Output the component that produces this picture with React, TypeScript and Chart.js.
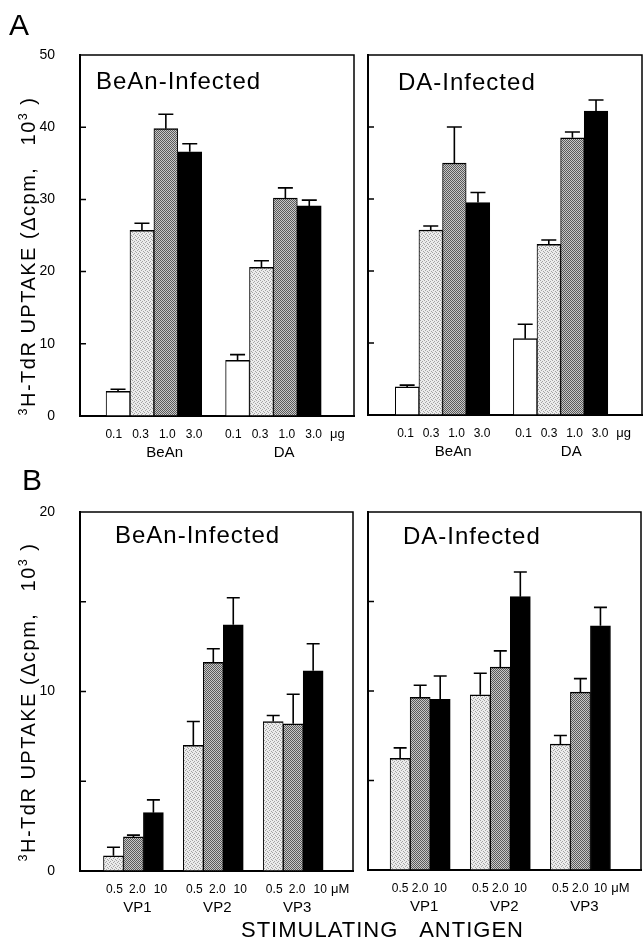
import React, { useEffect, useRef } from 'react';
import { Chart, registerables } from 'chart.js';

Chart.register(...registerables);

const FONT = '"Liberation Sans", Arial, Helvetica, sans-serif';

// ---------- Panel A: whole-virus antigen (3H-TdR uptake, Δcpm x 10^3) ----------
const antigensA = ['BeAn', 'DA'];
const dosesA = ['0.1', '0.3', '1.0', '3.0'];
const unitA = 'μg';
const yTicksA = [0, 10, 20, 30, 40, 50];
const yLabelsA = ['0', '10', '20', '30', '40', '50'];

// BeAn-infected: one array per dose, values for [BeAn, DA]
const aBeAnInf_01 = [3.4, 7.7];
const aBeAnInf_03 = [25.7, 20.6];
const aBeAnInf_10 = [39.8, 30.2];
const aBeAnInf_30 = [36.6, 29.1];
const aBeAnInfErr_01 = [0.3, 0.8];
const aBeAnInfErr_03 = [1.0, 0.9];
const aBeAnInfErr_10 = [2.0, 1.4];
const aBeAnInfErr_30 = [1.1, 0.8];

// DA-infected
const aDAInf_01 = [3.9, 10.6];
const aDAInf_03 = [25.7, 23.7];
const aDAInf_10 = [35.0, 38.5];
const aDAInf_30 = [29.5, 42.2];
const aDAInfErr_01 = [0.25, 2.0];
const aDAInfErr_03 = [0.55, 0.6];
const aDAInfErr_10 = [5.0, 0.8];
const aDAInfErr_30 = [1.4, 1.55];

// ---------- Panel B: capsid peptides ----------
const antigensB = ['VP1', 'VP2', 'VP3'];
const dosesB = ['0.5', '2.0', '10'];
const unitB = 'μM';
const yTicksB = [0, 5, 10, 15, 20];
const yLabelsB = ['0', '', '10', '', '20'];

// BeAn-infected: one array per dose, values for [VP1, VP2, VP3]
const bBeAnInf_05 = [0.85, 7.0, 8.33];
const bBeAnInf_20 = [1.9, 11.63, 8.2];
const bBeAnInf_10 = [3.25, 13.72, 11.15];
const bBeAnInfErr_05 = [0.47, 1.33, 0.33];
const bBeAnInfErr_20 = [0.1, 0.75, 1.65];
const bBeAnInfErr_10 = [0.71, 1.5, 1.51];

// DA-infected
const bDAInf_05 = [6.24, 9.79, 7.03];
const bDAInf_20 = [9.64, 11.33, 9.94];
const bDAInf_10 = [9.53, 15.27, 13.64];
const bDAInfErr_05 = [0.58, 1.2, 0.48];
const bDAInfErr_20 = [0.68, 0.91, 0.75];
const bDAInfErr_10 = [1.31, 1.38, 1.03];

type FillKind = 'white' | 'light' | 'dark' | 'black';

interface PanelCfg {
  key: string;
  title: string;
  antigens: string[];
  doses: string[];
  unit: string;
  values: number[][];
  errors: number[][];
  fills: FillKind[];
  yTicks: number[];
  yLabels: string[];
  showYLabels: boolean;
  yTitle: boolean;
  box: { left: number; top: number; width: number; height: number };
  pad: { top: number; right: number };
  yWidth: number;
  xHeight: number;
  xMin: number;
  xMax: number;
  titleAt: [number, number];
  yTitleAt: [number, number];
  cap: number;
  groupShift: number;
  labelSpread: number;
  labelShift: number;
}

function makeFill(kind: FillKind): string | CanvasPattern {
  if (kind === 'white') return '#ffffff';
  if (kind === 'black') return '#000000';
  const c = document.createElement('canvas');
  c.width = 4;
  c.height = 4;
  const g = c.getContext('2d')!;
  if (kind === 'light') {
    g.fillStyle = '#ececec';
    g.fillRect(0, 0, 4, 4);
    g.fillStyle = '#a4a4a4';
    [[0, 0], [2, 1], [1, 2], [3, 3]].forEach(([x, y]) => g.fillRect(x, y, 1, 1));
  } else {
    g.fillStyle = '#c8c8c8';
    g.fillRect(0, 0, 4, 4);
    g.fillStyle = '#5a5a5a';
    [[0, 0], [2, 0], [1, 1], [3, 1], [0, 2], [2, 2], [1, 3], [3, 3]].forEach(([x, y]) =>
      g.fillRect(x, y, 1, 1)
    );
  }
  const ctx = document.createElement('canvas').getContext('2d')!;
  return ctx.createPattern(c, 'repeat')!;
}

function drawYTitle(ctx: CanvasRenderingContext2D, cx: number, cy: number) {
  const parts = [
    { t: '3', sup: true },
    { t: 'H-TdR UPTAKE (Δcpm,   10', sup: false },
    { t: '3', sup: true },
    { t: ' )', sup: false },
  ];
  const main = `20px ${FONT}`;
  const sup = `12.5px ${FONT}`;
  ctx.save();
  ctx.translate(cx, cy);
  ctx.rotate(-Math.PI / 2);
  ctx.fillStyle = '#000';
  ctx.textAlign = 'left';
  ctx.textBaseline = 'alphabetic';
  (ctx as any).letterSpacing = '1.5px';
  const widths = parts.map((p) => {
    ctx.font = p.sup ? sup : main;
    return ctx.measureText(p.t).width;
  });
  const total = widths.reduce((a, b) => a + b, 0);
  let x = -total / 2;
  parts.forEach((p, i) => {
    ctx.font = p.sup ? sup : main;
    ctx.fillText(p.t, x, p.sup ? -8 : 0);
    x += widths[i];
  });
  ctx.restore();
}

function Panel({ cfg }: { cfg: PanelCfg }) {
  const ref = useRef<HTMLCanvasElement>(null);
  useEffect(() => {
    const canvas = ref.current!;
    const nD = cfg.doses.length;
    const step = nD + 1;
    const mid = (nD - 1) / 2;
    const fills = cfg.fills.map(makeFill);

    const datasets = cfg.doses.map((dose, d) => ({
      label: dose,
      data: cfg.antigens.map((_, g) => ({ x: g * step + d, y: cfg.values[d][g] })),
      backgroundColor: fills[d] as any,
      borderColor: '#000',
      borderWidth: { top: 1.5, left: 1, right: 1, bottom: 0 },
      grouped: false,
      barPercentage: 1,
      categoryPercentage: 1,
    }));

    const labelPos = (g: number, d: number) =>
      g * step + mid + (d - mid) * cfg.labelSpread + cfg.labelShift;
    const xTicks: { v: number; label: string | string[]; kind: string }[] = [];
    cfg.antigens.forEach((_, g) =>
      cfg.doses.forEach((dose, d) => xTicks.push({ v: labelPos(g, d), label: dose, kind: 'dose' }))
    );
    cfg.antigens.forEach((ag, g) =>
      xTicks.push({ v: g * step + mid + cfg.groupShift, label: ['', ag], kind: 'group' })
    );
    xTicks.push({ v: labelPos(cfg.antigens.length - 1, nD - 1) + 1.0, label: cfg.unit, kind: 'unit' });

    const deco = {
      id: 'deco',
      afterDatasetsDraw(chart: any) {
        const ctx: CanvasRenderingContext2D = chart.ctx;
        const ys = chart.scales.y;
        ctx.save();
        ctx.strokeStyle = '#000';
        ctx.lineWidth = 1.6;
        chart.data.datasets.forEach((_: any, d: number) => {
          const meta = chart.getDatasetMeta(d);
          meta.data.forEach((el: any, j: number) => {
            const v = cfg.values[d][j];
            const e = cfg.errors[d][j];
            const yTop = ys.getPixelForValue(v + e);
            const x = el.x;
            ctx.beginPath();
            ctx.moveTo(x, el.y);
            ctx.lineTo(x, yTop);
            ctx.moveTo(x - cfg.cap, yTop);
            ctx.lineTo(x + cfg.cap, yTop);
            ctx.stroke();
          });
        });
        ctx.restore();
      },
      afterDraw(chart: any) {
        const ctx: CanvasRenderingContext2D = chart.ctx;
        const { left, top, right, bottom } = chart.chartArea;
        const ys = chart.scales.y;
        ctx.save();
        ctx.strokeStyle = '#000';
        ctx.lineWidth = 1.5;
        ctx.strokeRect(left, top, right - left, bottom - top);
        ctx.beginPath();
        cfg.yTicks.slice(1, -1).forEach((v) => {
          const y = ys.getPixelForValue(v);
          ctx.moveTo(left, y);
          ctx.lineTo(left + 6, y);
        });
        ctx.stroke();
        ctx.fillStyle = '#000';
        ctx.font = `24px ${FONT}`;
        (ctx as any).letterSpacing = '1px';
        ctx.textAlign = 'left';
        ctx.textBaseline = 'alphabetic';
        ctx.fillText(cfg.title, left + cfg.titleAt[0], top + cfg.titleAt[1]);
        (ctx as any).letterSpacing = '0px';
        ctx.restore();
        if (cfg.yTitle) drawYTitle(ctx, cfg.yTitleAt[0], cfg.yTitleAt[1]);
      },
    };

    const chart = new Chart(canvas, {
      type: 'bar',
      data: { datasets: datasets as any },
      options: {
        animation: false,
        responsive: false,
        events: [],
        layout: {
          autoPadding: false,
          padding: { top: cfg.pad.top, right: cfg.pad.right, left: 0, bottom: 0 },
        } as any,
        plugins: {
          legend: { display: false },
          tooltip: { enabled: false },
          title: { display: false },
        },
        scales: {
          x: {
            type: 'linear',
            min: cfg.xMin,
            max: cfg.xMax,
            grid: { display: false },
            border: { display: true, color: '#000', width: 2 },
            afterBuildTicks: (scale: any) => {
              scale.ticks = xTicks.map((t) => ({ value: t.v }));
            },
            afterFit: (scale: any) => {
              scale.height = cfg.xHeight;
              scale.paddingLeft = 0;
              scale.paddingRight = 0;
              scale.paddingTop = 0;
              scale.paddingBottom = 0;
            },
            ticks: {
              autoSkip: false,
              maxRotation: 0,
              minRotation: 0,
              padding: 3,
              color: '#000',
              font: (c: any) => {
                const t = xTicks[c.index];
                if (t && t.kind === 'group') return { family: FONT, size: 15, lineHeight: 1.17 };
                if (t && t.kind === 'unit') return { family: FONT, size: 13, lineHeight: 1.2 };
                return { family: FONT, size: 12, lineHeight: 1.2 };
              },
              callback: (_v: any, i: number) => (xTicks[i] ? xTicks[i].label : ''),
            },
          } as any,
          y: {
            type: 'linear',
            min: cfg.yTicks[0],
            max: cfg.yTicks[cfg.yTicks.length - 1],
            grid: { display: false },
            border: { display: true, color: '#000', width: 2 },
            afterBuildTicks: (scale: any) => {
              scale.ticks = cfg.yTicks.map((v) => ({ value: v }));
            },
            afterFit: (scale: any) => {
              scale.width = cfg.yWidth;
              scale.paddingLeft = 0;
              scale.paddingRight = 0;
              scale.paddingTop = 0;
              scale.paddingBottom = 0;
            },
            ticks: {
              display: cfg.showYLabels,
              padding: 17,
              color: '#000',
              font: { family: FONT, size: 14 },
              callback: (_v: any, i: number) => cfg.yLabels[i],
            },
          } as any,
        },
      },
      plugins: [deco as any],
    });
    return () => chart.destroy();
  }, [cfg]);

  const b = cfg.box;
  return (
    <canvas
      ref={ref}
      width={b.width}
      height={b.height}
      style={{ position: 'absolute', left: b.left, top: b.top, width: b.width, height: b.height }}
    />
  );
}

const panels: PanelCfg[] = [
  {
    key: 'A-BeAn',
    title: 'BeAn-Infected',
    antigens: antigensA,
    doses: dosesA,
    unit: unitA,
    values: [aBeAnInf_01, aBeAnInf_03, aBeAnInf_10, aBeAnInf_30],
    errors: [aBeAnInfErr_01, aBeAnInfErr_03, aBeAnInfErr_10, aBeAnInfErr_30],
    fills: ['white', 'light', 'dark', 'black'],
    yTicks: yTicksA,
    yLabels: yLabelsA,
    showYLabels: true,
    yTitle: true,
    box: { left: 0, top: 40, width: 360, height: 430 },
    pad: { top: 15, right: 6 },
    yWidth: 80,
    xHeight: 54,
    xMin: -1.07,
    xMax: 9.35,
    titleAt: [16, 34],
    yTitleAt: [35, 216],
    cap: 7.5,
    groupShift: 0.45,
    labelSpread: 1.12,
    labelShift: 0,
  },
  {
    key: 'A-DA',
    title: 'DA-Infected',
    antigens: antigensA,
    doses: dosesA,
    unit: unitA,
    values: [aDAInf_01, aDAInf_03, aDAInf_10, aDAInf_30],
    errors: [aDAInfErr_01, aDAInfErr_03, aDAInfErr_10, aDAInfErr_30],
    fills: ['white', 'light', 'dark', 'black'],
    yTicks: yTicksA,
    yLabels: yLabelsA,
    showYLabels: false,
    yTitle: false,
    box: { left: 360, top: 40, width: 284, height: 430 },
    pad: { top: 15, right: 2 },
    yWidth: 8,
    xHeight: 55,
    xMin: -1.13,
    xMax: 9.42,
    titleAt: [30, 35],
    yTitleAt: [0, 0],
    cap: 7.5,
    groupShift: 0.45,
    labelSpread: 1.08,
    labelShift: 0.05,
  },
  {
    key: 'B-BeAn',
    title: 'BeAn-Infected',
    antigens: antigensB,
    doses: dosesB,
    unit: unitB,
    values: [bBeAnInf_05, bBeAnInf_20, bBeAnInf_10],
    errors: [bBeAnInfErr_05, bBeAnInfErr_20, bBeAnInfErr_10],
    fills: ['light', 'dark', 'black'],
    yTicks: yTicksB,
    yLabels: yLabelsB,
    showYLabels: true,
    yTitle: true,
    box: { left: 0, top: 500, width: 360, height: 420 },
    pad: { top: 12, right: 7 },
    yWidth: 80,
    xHeight: 49,
    xMin: -1.15,
    xMax: 11.47,
    titleAt: [35, 31],
    yTitleAt: [35, 202],
    cap: 6.5,
    groupShift: 0.2,
    labelSpread: 1.15,
    labelShift: 0.2,
  },
  {
    key: 'B-DA',
    title: 'DA-Infected',
    antigens: antigensB,
    doses: dosesB,
    unit: unitB,
    values: [bDAInf_05, bDAInf_20, bDAInf_10],
    errors: [bDAInfErr_05, bDAInfErr_20, bDAInfErr_10],
    fills: ['light', 'dark', 'black'],
    yTicks: yTicksB,
    yLabels: yLabelsB,
    showYLabels: false,
    yTitle: false,
    box: { left: 360, top: 500, width: 284, height: 420 },
    pad: { top: 12, right: 3 },
    yWidth: 8,
    xHeight: 50,
    xMin: -1.08,
    xMax: 11.5,
    titleAt: [35, 32],
    yTitleAt: [0, 0],
    cap: 6.5,
    groupShift: 0.2,
    labelSpread: 1.0,
    labelShift: 0,
  },
];

export default function App() {
  const txt: React.CSSProperties = {
    position: 'absolute',
    fontFamily: FONT,
    lineHeight: 1,
    color: '#000',
    whiteSpace: 'pre',
  };
  return (
    <div
      style={{
        position: 'absolute',
        left: 0,
        top: 0,
        width: 644,
        height: 941,
        overflow: 'hidden',
        background: '#fff',
      }}
    >
      {panels.map((p) => (
        <Panel key={p.key} cfg={p} />
      ))}
      <div style={{ ...txt, left: 9, top: 9.5, fontSize: 30 }}>A</div>
      <div style={{ ...txt, left: 22, top: 464.5, fontSize: 30 }}>B</div>
      <div
        style={{
          ...txt,
          left: 241,
          top: 919,
          fontSize: 22,
          letterSpacing: '1px',
          wordSpacing: '15px',
        }}
      >
        STIMULATING ANTIGEN
      </div>
    </div>
  );
}
